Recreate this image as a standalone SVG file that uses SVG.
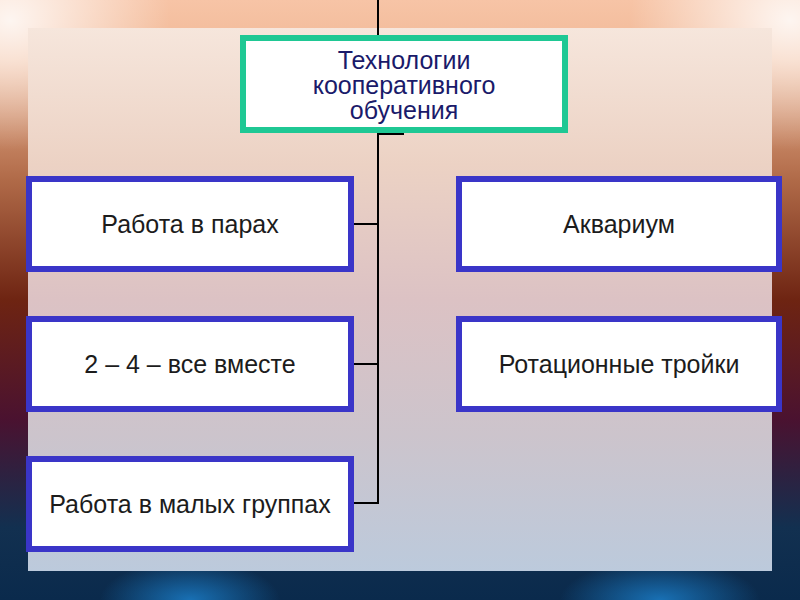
<svg xmlns="http://www.w3.org/2000/svg" width="800" height="600" viewBox="0 0 800 600">
<defs>
<linearGradient id="bg" x1="0" y1="0" x2="0" y2="1">
<stop offset="0" stop-color="#f7c4a6"/>
<stop offset="0.1" stop-color="#f0b896"/>
<stop offset="0.3" stop-color="#b06a48"/>
<stop offset="0.5" stop-color="#6e2412"/>
<stop offset="0.7" stop-color="#4a1230"/>
<stop offset="0.88" stop-color="#123050"/>
<stop offset="1" stop-color="#0a2a4c"/>
</linearGradient>
<radialGradient id="glowTL" cx="0" cy="0" r="1" gradientUnits="userSpaceOnUse" gradientTransform="translate(10 20) scale(160 130)">
<stop offset="0" stop-color="#ffffff" stop-opacity="0.85"/>
<stop offset="1" stop-color="#ffffff" stop-opacity="0"/>
</radialGradient>
<radialGradient id="glowTR" cx="0" cy="0" r="1" gradientUnits="userSpaceOnUse" gradientTransform="translate(790 20) scale(160 130)">
<stop offset="0" stop-color="#ffffff" stop-opacity="0.85"/>
<stop offset="1" stop-color="#ffffff" stop-opacity="0"/>
</radialGradient>
<radialGradient id="blueL" cx="0" cy="0" r="1" gradientUnits="userSpaceOnUse" gradientTransform="translate(190 600) scale(90 40)">
<stop offset="0" stop-color="#1a78c0" stop-opacity="0.9"/>
<stop offset="1" stop-color="#1a78c0" stop-opacity="0"/>
</radialGradient>
<radialGradient id="blueR" cx="0" cy="0" r="1" gradientUnits="userSpaceOnUse" gradientTransform="translate(660 600) scale(100 40)">
<stop offset="0" stop-color="#1a78c0" stop-opacity="0.9"/>
<stop offset="1" stop-color="#1a78c0" stop-opacity="0"/>
</radialGradient>
<linearGradient id="panel" x1="0" y1="0" x2="0" y2="1">
<stop offset="0" stop-color="#f6e6dc"/>
<stop offset="0.25" stop-color="#ecd2c4"/>
<stop offset="0.5" stop-color="#dcc2c4"/>
<stop offset="0.75" stop-color="#ccc4cc"/>
<stop offset="1" stop-color="#bccadc"/>
</linearGradient>
<style>
.box{fill:#ffffff;stroke:#3a35c8;stroke-width:6}
.top{fill:#ffffff;stroke:#1fc894;stroke-width:6}
.t{font-family:"Liberation Sans",Arial,sans-serif;font-size:25px;fill:#1c1c1c;text-anchor:middle}
.tt{font-family:"Liberation Sans",Arial,sans-serif;font-size:25px;fill:#1a1a6a;text-anchor:middle}
.c{fill:none;stroke:#000000;stroke-width:2}
</style>
</defs>
<rect width="800" height="600" fill="url(#bg)"/>
<rect width="800" height="600" fill="url(#glowTL)"/>
<rect width="800" height="600" fill="url(#glowTR)"/>
<rect width="800" height="600" fill="url(#blueL)"/>
<rect width="800" height="600" fill="url(#blueR)"/>
<rect x="28" y="28" width="744" height="543" fill="url(#panel)"/>
<g id="connectors">
<path class="c" d="M378 0 V37"/>
<path class="c" d="M378 131 V503 H353"/>
<path class="c" d="M378 224 H353"/>
<path class="c" d="M378 364 H353"/>
<path class="c" d="M378 134 H404"/>
</g>
<g id="node-top">
<rect class="top" x="243" y="38" width="322" height="92"/>
<text class="tt" x="404" y="69">Технологии</text>
<text class="tt" x="404" y="94">кооперативного</text>
<text class="tt" x="404" y="119">обучения</text>
</g>
<g id="node-pairs">
<rect class="box" x="29" y="179" width="322" height="90"/>
<text class="t" x="190" y="233">Работа в парах</text>
</g>
<g id="node-24">
<rect class="box" x="29" y="319" width="322" height="90"/>
<text class="t" x="190" y="373">2 – 4 – все вместе</text>
</g>
<g id="node-small">
<rect class="box" x="29" y="459" width="322" height="90"/>
<text class="t" x="190" y="513">Работа в малых группах</text>
</g>
<g id="node-aquarium">
<rect class="box" x="459" y="179" width="320" height="90"/>
<text class="t" x="619" y="233">Аквариум</text>
</g>
<g id="node-rot">
<rect class="box" x="459" y="319" width="320" height="90"/>
<text class="t" x="619" y="373">Ротационные тройки</text>
</g>
</svg>
